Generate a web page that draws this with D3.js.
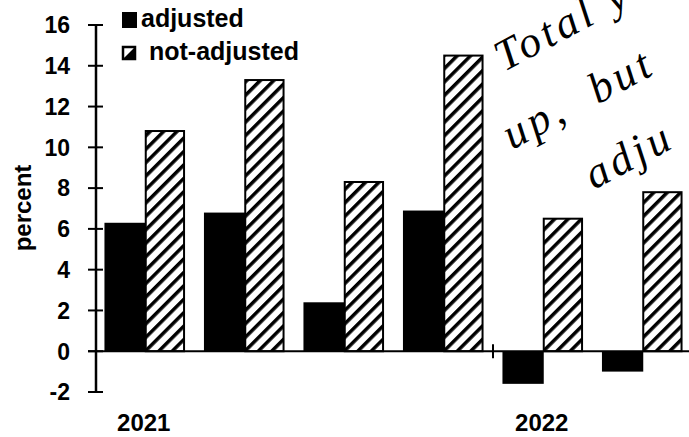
<!DOCTYPE html>
<html>
<head>
<meta charset="utf-8">
<script src="https://cdn.jsdelivr.net/npm/d3@7"></script>
<style>
  html, body { margin: 0; padding: 0; background: #fff; }
  svg { display: block; }
  text { font-family: "Liberation Sans", Arial, sans-serif; font-weight: bold; fill: #000; }
  .note { font-family: "Liberation Serif", serif; font-style: italic; font-weight: normal; letter-spacing: 4px; }
</style>
</head>
<body>
<div id="chart"></div>
<script>
// six periods, two years
const periods = ['2021 Q1', '2021 Q2', '2021 Q3', '2021 Q4', '2022 Q1', '2022 Q2'];
const yearLabels = ['2021', '', '', '', '2022', ''];
const adjusted = [6.3, 6.8, 2.4, 6.9, -1.6, -1.0];
const notAdjusted = [10.8, 13.3, 8.3, 14.5, 6.5, 7.8];
const yTicks = [-2, 0, 2, 4, 6, 8, 10, 12, 14, 16];
const seriesNames = ['adjusted', 'not-adjusted'];
const noteLines = ['Total y', 'up,  but', 'adju'];

function renderChart() {
    const width = 689, height = 437;
    const svg = d3.select('#chart').append('svg')
        .attr('width', width)
        .attr('height', height);

    const defs = svg.append('defs');
    const pat = defs.append('pattern')
        .attr('id', 'hatch')
        .attr('patternUnits', 'userSpaceOnUse')
        .attr('width', 9.5)
        .attr('height', 9.5)
        .attr('patternTransform', 'rotate(45)');
    pat.append('rect').attr('width', 9.5).attr('height', 9.5).attr('fill', '#fff');
    pat.append('line')
        .attr('x1', 0).attr('y1', 0).attr('x2', 0).attr('y2', 9.5)
        .attr('stroke', '#000').attr('stroke-width', 7);

    const y = d3.scaleLinear().domain([-2, 16]).range([392, 25]);
    const x = d3.scaleBand().domain(d3.range(periods.length)).range([95, 692])
        .paddingInner(0.19).paddingOuter(0.095);
    const xs = d3.scaleBand().domain(seriesNames).range([0, x.bandwidth()]);

    const rows = periods.map((p, i) => ({ i, adjusted: adjusted[i], notAdjusted: notAdjusted[i] }));

    const groups = svg.append('g').selectAll('g.grp').data(rows).enter().append('g')
        .attr('class', 'grp')
        .attr('transform', d => `translate(${x(d.i)},0)`);

    groups.append('rect')
        .attr('x', xs('adjusted'))
        .attr('width', xs.bandwidth() + 1)
        .attr('y', d => y(Math.max(0, d.adjusted)))
        .attr('height', d => Math.abs(y(d.adjusted) - y(0)))
        .attr('fill', '#000');

    groups.append('rect')
        .attr('x', xs('not-adjusted') + 1)
        .attr('width', xs.bandwidth() - 2)
        .attr('y', d => y(Math.max(0, d.notAdjusted)))
        .attr('height', d => Math.abs(y(d.notAdjusted) - y(0)))
        .attr('fill', 'url(#hatch)')
        .attr('stroke', '#000')
        .attr('stroke-width', 2);

    // y axis
    const yAxis = svg.append('g');
    yAxis.append('line')
        .attr('x1', 96).attr('x2', 96)
        .attr('y1', y(16)).attr('y2', y(-2))
        .attr('stroke', '#000').attr('stroke-width', 2.5);
    yAxis.selectAll('line.tick').data(yTicks).enter().append('line')
        .attr('class', 'tick')
        .attr('x1', 88).attr('x2', 103)
        .attr('y1', d => y(d)).attr('y2', d => y(d))
        .attr('stroke', '#000').attr('stroke-width', 2);
    yAxis.selectAll('text').data(yTicks).enter().append('text')
        .attr('x', 70)
        .attr('y', d => y(d))
        .attr('dy', '0.36em')
        .attr('text-anchor', 'end')
        .style('font-size', '23px')
        .text(d => d);

    // zero line
    svg.append('line')
        .attr('x1', 88).attr('x2', width)
        .attr('y1', y(0)).attr('y2', y(0))
        .attr('stroke', '#000').attr('stroke-width', 2);

    // year separator tick
    const sep = (x(3) + x.bandwidth() + x(4)) / 2;
    svg.append('line')
        .attr('x1', sep).attr('x2', sep)
        .attr('y1', y(0) - 7).attr('y2', y(0) + 7)
        .attr('stroke', '#000').attr('stroke-width', 2);

    // year labels
    svg.append('g').selectAll('text').data(yearLabels).enter().append('text')
        .attr('x', (d, i) => x(i) + x.bandwidth() / 2 - 1)
        .attr('y', 431)
        .attr('text-anchor', 'middle')
        .style('font-size', '24px')
        .text(d => d);

    svg.append('text')
        .attr('transform', 'translate(31,208) rotate(-90)')
        .attr('text-anchor', 'middle')
        .style('font-size', '24px')
        .text('percent');

    // legend
    const lg = svg.append('g');
    lg.append('rect').attr('x', 122).attr('y', 12).attr('width', 15).attr('height', 16).attr('fill', '#000');
    lg.append('text').attr('x', 141).attr('y', 27).style('font-size', '25px').text(seriesNames[0]);
    lg.append('rect').attr('x', 123).attr('y', 47).attr('width', 12).attr('height', 12)
        .attr('fill', '#fff').attr('stroke', '#000').attr('stroke-width', 2.5);
    lg.append('path').attr('d', 'M123,59 L135,47 L135,59 Z').attr('fill', '#000');
    lg.append('text').attr('x', 149).attr('y', 60).style('font-size', '25px').text(seriesNames[1]);

    // handwritten note
    const notePos = [[504, 72], [512, 150], [594, 190]];
    svg.append('g').selectAll('text').data(noteLines).enter().append('text')
        .attr('class', 'note')
        .attr('transform', (d, i) => `translate(${notePos[i][0]},${notePos[i][1]}) rotate(-28)`)
        .style('font-size', '44px')
        .style('white-space', 'pre')
        .text(d => d);
}

renderChart();
</script>
</body>
</html>
